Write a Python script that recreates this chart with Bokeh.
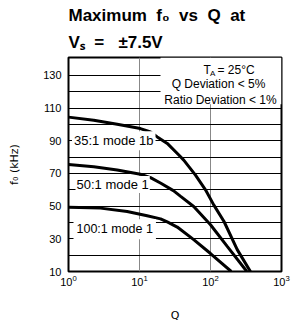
from bokeh.plotting import figure
from bokeh.models import Label, FixedTicker, BoxAnnotation, Range1d, Title
from bokeh.embed import file_html
from bokeh.resources import INLINE
import math

# ---- data ----
q_35 = [1, 2.27, 4.85, 10.3, 14.3, 17.8, 24.6, 35.8, 42, 61.5, 85, 111, 155, 238, 365]
f_35 = [104.5, 102.6, 100.1, 97.5, 95.4, 92.4, 88.4, 81.3, 78.2, 69, 60, 50.8, 40.6, 23.4, 10]

q_50 = [1, 2.27, 4.85, 10.3, 14.3, 20, 30, 38, 58, 100, 172, 325]
f_50 = [75.5, 74.1, 72.1, 69.5, 67.5, 64, 59.5, 56.0, 49.8, 38.6, 25.4, 10]

q_100 = [1, 2.82, 6.7, 12.8, 19.8, 25, 34, 58, 100, 196]
f_100 = [49.4, 48.8, 46.7, 44.1, 42.2, 40.2, 37.2, 29.5, 21.0, 10]

series_names = ["35:1 mode 1b", "50:1 mode 1", "100:1 mode 1"]
x_ticks = [1, 10, 100, 1000]
y_ticks = [10, 30, 50, 70, 90, 110, 130]
y_grid = [20, 30, 40, 50, 60, 70, 80, 90, 100, 110, 120, 130]
x_grid = [10, 100]
title_1 = "Maximum\u00a0 f\u2080\u00a0 vs\u00a0 Q\u00a0 at"
title_2 = "V\u209b\u00a0 =\u00a0\u00a0 \u00b17.5V"

# ---- layout (page pixels) ----
W, H = 293, 324
FL, FR, FT, FB = 68, 281, 57, 272
X0, X1 = 1, 1000
Y0, Y1 = 10, 141
def qx(px):
    return 10 ** (math.log10(X0) + (px - FL) / (FR - FL) * (math.log10(X1) - math.log10(X0)))
def fy(py):
    return Y0 + (FB - py) / (FB - FT) * (Y1 - Y0)

p = figure(width=W, height=H, x_axis_type="log", output_backend="svg",
           toolbar_location=None, x_range=Range1d(X0, X1), y_range=Range1d(Y0, Y1),
           min_border_left=FL, min_border_right=W - FR, min_border_top=FT,
           min_border_bottom=H - FB)
p.background_fill_color = "white"
p.border_fill_color = "white"
p.outline_line_color = "black"
p.outline_line_width = 2

# titles: p.title is the outer (first) line, the added Title sits next to the frame
p.title.text = title_1
p.title.align = "left"
p.title.text_font = "Liberation Sans"
p.title.text_font_size = "17px"
p.title.text_font_style = "bold"
p.title.text_color = "black"
p.title.standoff = 1
p.add_layout(Title(text=title_2, align="left", text_font="Liberation Sans",
                   text_font_size="17px", text_font_style="bold", text_color="black",
                   standoff=11), "above")

# grids
p.ygrid.ticker = FixedTicker(ticks=y_grid)
p.ygrid.grid_line_color = "black"
p.ygrid.grid_line_width = 1
p.xgrid.ticker = FixedTicker(ticks=x_grid)
p.xgrid.grid_line_color = "#888888"
p.xgrid.grid_line_width = 1

# axes
p.yaxis.ticker = FixedTicker(ticks=y_ticks)
p.xaxis.ticker = FixedTicker(ticks=x_ticks)
for ax in (p.xaxis[0], p.yaxis[0]):
    ax.axis_line_color = None
    ax.major_tick_line_color = None
    ax.minor_tick_line_color = None
    ax.major_tick_in = 0
    ax.major_tick_out = 0
    ax.major_label_text_font = "Liberation Sans"
    ax.major_label_text_font_size = "11px"
    ax.major_label_text_color = "black"
    ax.axis_label_text_font = "DejaVu Sans"
    ax.axis_label_text_font_size = "11px"
    ax.axis_label_text_font_style = "normal"
    ax.axis_label_text_color = "black"
p.yaxis.major_label_standoff = 7
p.xaxis.major_label_standoff = 3
p.yaxis.axis_label = "f\u2080 (kHz)"
p.xaxis.axis_label = "Q"
p.yaxis.axis_label_standoff = 19
p.xaxis.axis_label_standoff = 20

# curves
for q, f in ((q_35, f_35), (q_50, f_50), (q_100, f_100)):
    p.line(q, f, line_color="black", line_width=3)

# white box behind the conditions text
p.add_layout(BoxAnnotation(left=qx(160), bottom=fy(104), fill_color="white", fill_alpha=1,
                           line_alpha=0, level="underlay"))

def lab(text, px, py, size, font="Liberation Sans", style="normal", align="left",
        baseline="alphabetic", bg=None, pad=0):
    kw = {}
    if bg:
        kw = dict(background_fill_color=bg, background_fill_alpha=1, padding=pad)
    p.add_layout(Label(x=qx(px), y=fy(py), text=text, text_font=font,
                       text_font_size=f"{size}px", text_font_style=style,
                       text_align=align, text_baseline=baseline, text_color="black", **kw))

# curve labels
lab(series_names[0], 71.5, 140.6, 13, baseline="middle", bg="white", pad=2)
lab(series_names[1], 75, 184.5, 13, baseline="middle", bg="white", pad=1)
lab(series_names[2], 73, 229.5, 12.5, baseline="middle", bg="white", pad=3)

# conditions
lab("T", 203, 70, 12)
lab("A", 209.5, 73, 8)
lab("= 25\u00b0C", 217, 70, 12)
lab("Q Deviation < 5%", 218, 84, 12, align="center")
lab("Ratio Deviation < 1%", 220, 100, 12, align="center")

open("out.html", "w").write(file_html(p, INLINE))
